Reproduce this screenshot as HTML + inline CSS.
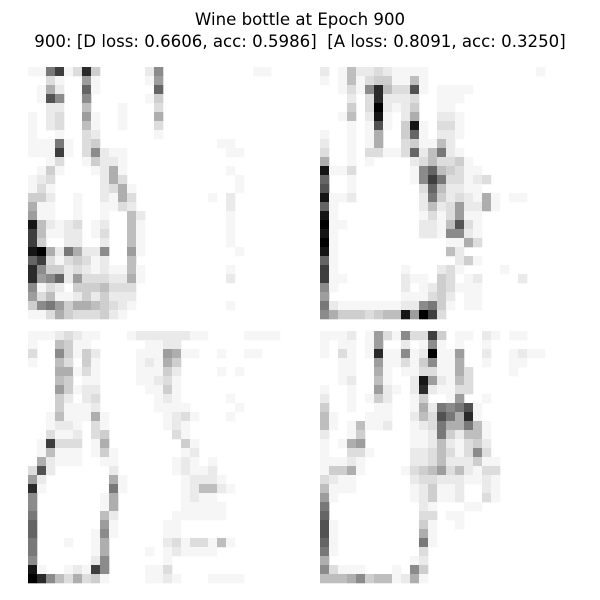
<!DOCTYPE html>
<html><head><meta charset="utf-8">
<style>
html,body{margin:0;padding:0;background:#fff;}
#fig{position:relative;width:600px;height:600px;overflow:hidden;background:#fff;font-family:"DejaVu Sans","Liberation Sans",sans-serif;}
.t{position:absolute;left:0;width:600px;text-align:center;font-size:16.6px;color:#000;white-space:pre;}
</style></head>
<body>
<div id="fig">
<div class="t" style="top:10px">Wine bottle at Epoch 900</div>
<div class="t" style="top:32px">900: [D loss: 0.6606, acc: 0.5986]  [A loss: 0.8091, acc: 0.3250]</div>
<svg id="svg" width="600" height="600" style="position:absolute;left:0;top:0"></svg>
</div>
<script>
const img1 = ["119c13d400000280000000000110","0031007100000170000000000000","016200a1000000a0000000000000","01b8008000000140000000000000","0022005000100030000000000000","1023007100100060000000000000","1023005100100030000000000000","1001003200000010000000000000","1119103400000000000001100000","111c1038211000000000001100","00130014221","0141000126100000000000100","1230000026300000000000010","131000002361000000000001","4420010021630000000010200","6110010011320000000000200","711001001005200000000010","e521230120051000000000100","c5112201300510000000001","c4002200200510000000001","ef6296228007100000000001","ac31343120050000000000","d8442321211510000000001","d78a27333226100000000020","8132044453330","7351124242220","48974665432100000000001","113643334210"];
const img2 = ["201522321111000000000000100","101513441151","001318d533b101111","000203d2223001110","000403f21240011","001502e102600221","000101b104e10331","1001016004a10221","2001016003411520","3001033113a25921","60010100002353341","e11300000018a543110","a00100000018c933123","b00100000003a52211","e1120000000294232161011","a100000000025237226100","e100000000013137110","f11000000002215b31","e10000000002218821","f10000000000001163","e100000000000052","a10000000000000241","c100000001000231000010","c1100000021104301200002","810000000201243111","700000000111342011","921111111228941011","864443455e7fc30"];
const img3 = ["1112321100012222221100001111","10054110000001122","30084142000011176110010011","10053041000012164","000661310000111420000101","00054011000011231","00074122000001141","00042023000000121000001","000411120000001111000001","00151116100000012310001","001221031000000121","003112034000000031","01c3330160000000041","0151110141000000012","062111001100000012101","3b2000000200000012112","7200000006100000012221","d100000009100000012552 1","800000001600000001211","8000000016000000011111","9000000052000000111111","a000000071000001 1","a0000001810000011","90001001600000023133151","900000016000010121111","8000000280000001","e100121c80000113","fd8536341000011210001111"];
const img4 = ["111201731833c4011021011","1011017002018101001","103101d11812f117002001211","00110071131481160010011","0011006101133116300001","00120051002e72153","10010072102d21133","2001014200140017001","4001001100162989b1","5100011100253b96d1","5101511200123966951","2001400000112942551","1016700000112521342","1003310000223531383","11121000002235222411","14461000013457352133","32110000002332221121","51110000001241120021","71000000001241120031","9000000000021000110","a0000000000330110","b1000000000410010","b100000000061","a100000000091","910000000003","600000000012","8311100010840","5556845512610"];
const images = [img1, img2, img3, img4];
const panelX = [28, 320, 28, 320];
const panelY = [67, 67, 331, 331];
const cell = 9, N = 28;
const svg = document.getElementById('svg');
const NS = 'http://www.w3.org/2000/svg';
function level(ch){ const v = parseInt(ch,16); return isNaN(v)?0:v; }
images.forEach((rows, k) => {
  const g = document.createElementNS(NS,'g');
  
  
  svg.appendChild(g);
  for (let r = 0; r < N; r++) {
    const s = (rows[r] || '').replace(/ /g,'');
    for (let c = 0; c < N; c++) {
      const v = level(s[c] || '0');
      if (v === 0) continue;
      const gray = Math.round(255 - Math.pow(v/15, 1.25)*255);
      const rect = document.createElementNS(NS,'rect');
      rect.setAttribute('x', panelX[k] + c*cell);
      rect.setAttribute('y', panelY[k] + r*cell);
      rect.setAttribute('width', cell + 0.3);
      rect.setAttribute('height', cell + 0.3);
      rect.setAttribute('fill', `rgb(${gray},${gray},${gray})`);
      
      
      g.appendChild(rect);
    }
  }
});
</script>
</body></html>
